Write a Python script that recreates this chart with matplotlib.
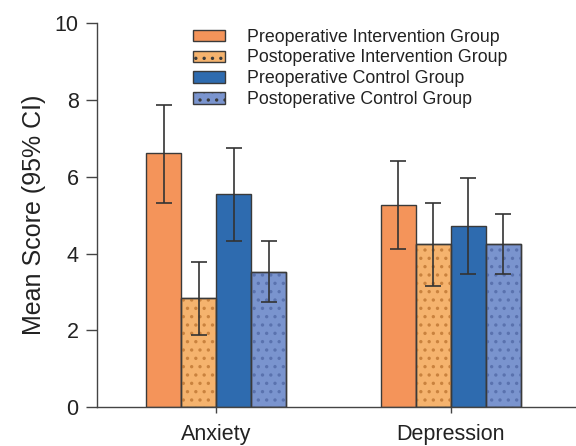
import matplotlib
matplotlib.use("Agg")
import matplotlib.pyplot as plt
import numpy as np
from matplotlib.patches import Patch

plt.rcParams['font.family'] = ['Liberation Sans', 'DejaVu Sans']
plt.rcParams['hatch.linewidth'] = 1.2

categories = ["Anxiety", "Depression"]
groups = ["Preoperative Intervention Group", "Postoperative Intervention Group",
          "Preoperative Control Group", "Postoperative Control Group"]
means = [[6.61, 5.26], [2.84, 4.24], [5.56, 4.71], [3.53, 4.25]]
ci_low = [[5.33, 4.11], [1.88, 3.15], [4.33, 3.46], [2.74, 3.46]]
ci_high = [[7.86, 6.41], [3.78, 5.33], [6.76, 5.98], [4.32, 5.04]]

colors = ["#F4945A", "#F5B36E", "#2E6BAF", "#7A94CE"]
hatches = [None, "..", None, ".."]
hatch_colors = [None, "#C9823E", None, "#5A72AE"]

fig = plt.figure(figsize=(5.76, 4.46), dpi=100)
ax = fig.add_axes([0.168, 0.087, 0.832, 0.861])

x = np.arange(len(categories))
w = 0.149
for i in range(4):
    pos = x + (i - 1.5) * w
    m = np.array(means[i])
    lo = m - np.array(ci_low[i])
    hi = np.array(ci_high[i]) - m
    ax.bar(pos, m, width=w, color=colors[i], edgecolor="#3a3a3a",
           linewidth=1.0, label=groups[i], zorder=2)
    if hatches[i]:
        ax.bar(pos, m, width=w, color="none", edgecolor=hatch_colors[i],
               hatch=hatches[i], linewidth=0, zorder=2.1)
        ax.bar(pos, m, width=w, color="none", edgecolor="#3a3a3a",
               linewidth=1.0, zorder=2.2)
    ax.errorbar(pos, m, yerr=[lo, hi], fmt="none", ecolor="#333333",
                elinewidth=1.2, capsize=6, capthick=1.2, zorder=3)

ax.set_xlim(-0.509, 1.534)
ax.set_ylim(0, 10)
ax.set_yticks([0, 2, 4, 6, 8, 10])
ax.set_xticks(x)
ax.set_xticklabels(categories)
ax.set_ylabel("Mean Score (95% CI)", fontsize=18, color="#222222", labelpad=6)
ax.tick_params(axis="y", labelsize=15.5, length=8, width=1, colors="#444444", labelcolor="#222222", pad=5)
ax.tick_params(axis="x", labelsize=15.5, length=4, width=1, colors="#444444", labelcolor="#222222", pad=8)
for s in ["top", "right"]:
    ax.spines[s].set_visible(False)
for s in ["left", "bottom"]:
    ax.spines[s].set_color("#444444")
    ax.spines[s].set_linewidth(1.0)

handles = []
for i in range(4):
    handles.append(Patch(facecolor=colors[i], edgecolor="#3a3a3a",
                         hatch=hatches[i], label=groups[i]))
leg = ax.legend(handles=handles, loc="upper left", bbox_to_anchor=(0.19, 1.0),
                frameon=False, fontsize=12.8, handlelength=1.8, handleheight=0.6,
                handletextpad=1.25, labelspacing=0.22, borderaxespad=0.0,
                borderpad=0.3)
for t in leg.get_texts():
    t.set_color("#222222")

fig.savefig("out.png", dpi=100)
